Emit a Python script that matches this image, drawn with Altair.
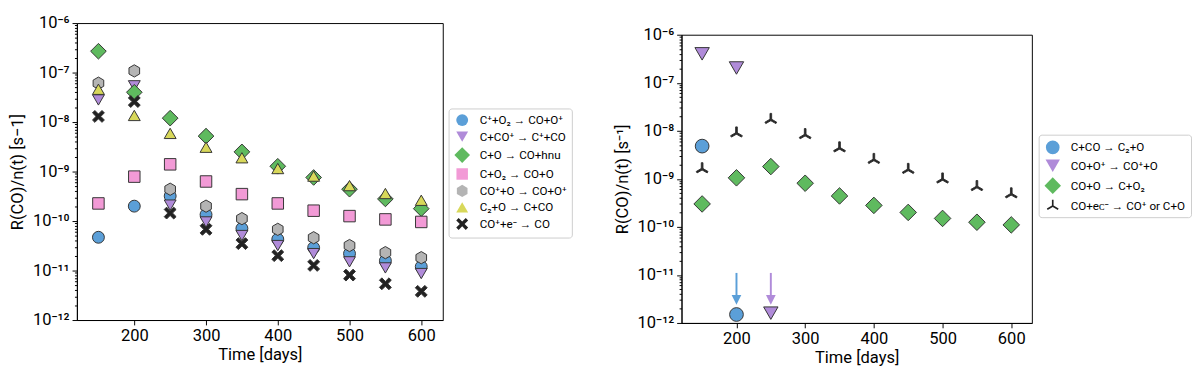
import altair as alt
import pandas as pd

# ---------------- data ----------------
days = [150, 200, 250, 300, 350, 400, 450, 500, 550, 600]

left_reactions = ["C⁺+O₂ → CO+O⁺", "C+CO⁺ → C⁺+CO", "C+O → CO+hnu", "C+O₂ → CO+O",
                  "CO⁺+O → CO+O⁺", "C₂+O → C+CO", "CO⁺+e⁻ → CO"]
l_cp_o2 = [4.7e-11, 2.0e-10, 3.2e-10, 1.35e-10, 7.1e-11, 4.3e-11, 2.9e-11, 2.2e-11, 1.58e-11, 1.2e-11]
l_c_cop = [2.8e-8, 5.4e-8, 2.1e-10, 9.6e-11, 5.1e-11, 3.2e-11, 2.2e-11, 1.5e-11, 1.13e-11, 8.7e-12]
l_c_o = [2.7e-7, 4.0e-8, 1.2e-8, 5.2e-9, 2.5e-9, 1.28e-9, 7.6e-10, 4.4e-10, 2.8e-10, 1.78e-10]
l_c_o2 = [2.27e-10, 7.9e-10, 1.4e-9, 6.3e-10, 3.5e-10, 2.27e-10, 1.62e-10, 1.26e-10, 1.08e-10, 9.6e-11]
l_cop_o = [6.1e-8, 1.08e-7, 4.4e-10, 2.0e-10, 1.12e-10, 6.8e-11, 4.6e-11, 3.2e-11, 2.3e-11, 1.82e-11]
l_c2_o = [4.6e-8, 1.36e-8, 5.9e-9, 3.1e-9, 1.9e-9, 1.15e-9, 8.1e-10, 5.2e-10, 3.6e-10, 2.63e-10]
l_cop_e = [1.3e-8, 2.6e-8, 1.45e-10, 6.8e-11, 3.5e-11, 2.0e-11, 1.27e-11, 8.1e-12, 5.4e-12, 3.8e-12]
left_series = [l_cp_o2, l_c_cop, l_c_o, l_c_o2, l_cop_o, l_c2_o, l_cop_e]

right_reactions = ["C+CO → C₂+O", "CO+O⁺ → CO⁺+O", "CO+O → C+O₂", "CO+eᴄ⁻ → CO⁺ or C+O"]
r_c_co_days = [150, 200]
r_c_co = [4.8e-9, 1.5e-12]
r_co_op_days = [150, 200, 250]
r_co_op = [4.0e-7, 2.03e-7, 1.6e-12]
r_co_o = [3.0e-10, 1.05e-9, 1.8e-9, 8.1e-10, 4.4e-10, 2.8e-10, 2.0e-10, 1.5e-10, 1.25e-10, 1.1e-10]
r_co_e = [1.6e-9, 8.9e-9, 1.7e-8, 8.2e-9, 4.35e-9, 2.5e-9, 1.55e-9, 9.8e-10, 6.8e-10, 4.8e-10]

arrow_days = [200, 250]
arrow_top = [1.1e-11, 1.1e-11]
arrow_tip = [2.4e-12, 2.4e-12]
arrow_colors = ["#5b9fd8", "#b08bd9"]

x_ticks = [200, 300, 400, 500, 600]

# ---------------- styling ----------------
BLUE, PURPLE, GREEN, PINK, GRAY, YELLOW, DARK = (
    "#5b9fd8", "#b08bd9", "#5fba5f", "#f29ad6", "#b4b4b4", "#d8d85a", "#222222")
HEX = "M0,-1L0.866,-0.5L0.866,0.5L0,1L-0.866,0.5L-0.866,-0.5Z"
XSHAPE = "M-1,-0.6L-0.6,-1L0,-0.4L0.6,-1L1,-0.6L0.4,0L1,0.6L0.6,1L0,0.4L-0.6,1L-1,0.6L-0.4,0Z"
TRI = ("M-0.13,0L-0.13,-1L0.13,-1L0.13,0Z"
       "M-0.801,0.613L-0.931,0.387L-0.065,-0.113L0.065,0.113Z"
       "M-0.065,0.113L0.065,-0.113L0.931,0.387L0.801,0.613Z")
HEAD = "M-0.5,-1L0.5,-1L0,0Z"

left_colors = [BLUE, PURPLE, GREEN, PINK, GRAY, YELLOW, DARK]
left_shapes = ["circle", "triangle-down", "diamond", "square", HEX, "triangle-up", XSHAPE]
left_sizes = [150, 150, 260, 140, 160, 150, 150]
right_colors = [BLUE, PURPLE, GREEN, DARK]
right_shapes = ["circle", "triangle-down", "diamond", TRI]
right_sizes = [200, 220, 290, 170]

FONT = "Roboto"

sup = {"-6": "⁻⁶", "-7": "⁻⁷", "-8": "⁻⁸", "-9": "⁻⁹", "-10": "⁻¹⁰", "-11": "⁻¹¹", "-12": "⁻¹²"}
decades = [-12, -11, -10, -9, -8, -7, -6]
y_ticks = []
for e in decades:
    y_ticks.append(float(f"1e{e}"))
    if e < -6:
        for k in range(2, 10):
            y_ticks.append(float(f"{k}e{e}"))

MAJOR = "abs(log(datum.value)/LN10 - round(log(datum.value)/LN10)) < 0.001"
label_expr = " : ".join(
    f"abs(datum.value/1e{e} - 1) < 1e-6 ? '10{sup[str(e)]}'" for e in decades) + " : ''"

xscale = alt.Scale(domain=[120, 630], nice=False, zero=False)
yscale = alt.Scale(type="log", domain=[1e-12, 1e-6], nice=False)


def xaxis():
    return alt.Axis(values=x_ticks, title="Time [days]", grid=False, tickSize=5,
                    labelFontSize=17, titleFontSize=17, labelPadding=3, titlePadding=4,
                    labelFlush=False, format="d")


def yaxis(title):
    return alt.Axis(values=y_ticks, labelExpr=label_expr, title=title, grid=False,
                    tickSize={"condition": {"test": MAJOR, "value": 5}, "value": 2.5},
                    labelFontSize=17, titleFontSize=17, labelPadding=3, titlePadding=6,
                    labelOverlap=False, labelFlush=False)


def legend(lx, ly):
    return alt.Legend(title=None, orient="none", legendX=lx, legendY=ly,
                      labelFontSize=12, labelFont=FONT,
                      strokeColor="#cccccc", fillColor="white",
                      padding=5, cornerRadius=3, rowPadding=0, labelOffset=9,
                      symbolOpacity=1, symbolStrokeColor="#333333", symbolStrokeWidth=1)


# ---------------- left panel ----------------
rows = []
for name, vals in zip(left_reactions, left_series):
    for d, v in zip(days, vals):
        rows.append({"reaction": name, "day": d, "rate": v})
ldf = pd.DataFrame(rows)

LLEG = legend(383, 88)
left = alt.Chart(ldf).mark_point(filled=True, opacity=1, stroke="#333333", strokeWidth=1).encode(
    x=alt.X("day:Q", scale=xscale, axis=xaxis()),
    y=alt.Y("rate:Q", scale=yscale, axis=yaxis("R(CO)/n(t) [s−1]")),
    color=alt.Color("reaction:N", scale=alt.Scale(domain=left_reactions, range=left_colors), legend=LLEG),
    shape=alt.Shape("reaction:N", scale=alt.Scale(domain=left_reactions, range=left_shapes), legend=LLEG),
    size=alt.Size("reaction:N", scale=alt.Scale(type="ordinal", domain=left_reactions, range=left_sizes),
                  legend=LLEG),
).properties(width=377, height=306)

# ---------------- right panel ----------------
rrows = []
for d, v in zip(r_c_co_days, r_c_co):
    rrows.append({"reaction": right_reactions[0], "day": d, "rate": v})
for d, v in zip(r_co_op_days, r_co_op):
    rrows.append({"reaction": right_reactions[1], "day": d, "rate": v})
for d, v in zip(days, r_co_o):
    rrows.append({"reaction": right_reactions[2], "day": d, "rate": v})
for d, v in zip(days, r_co_e):
    rrows.append({"reaction": right_reactions[3], "day": d, "rate": v})
rdf = pd.DataFrame(rrows)

adf = pd.DataFrame({"day": arrow_days, "top": arrow_top, "tip": arrow_tip, "col": arrow_colors})

RLEG = legend(368, 115)
ryaxis = yaxis("R(CO)/n(t) [s⁻¹]")
rpts = alt.Chart(rdf).mark_point(filled=True, opacity=1, stroke="#333333", strokeWidth=1).encode(
    x=alt.X("day:Q", scale=xscale, axis=xaxis()),
    y=alt.Y("rate:Q", scale=yscale, axis=ryaxis),
    color=alt.Color("reaction:N", scale=alt.Scale(domain=right_reactions, range=right_colors), legend=RLEG),
    shape=alt.Shape("reaction:N", scale=alt.Scale(domain=right_reactions, range=right_shapes), legend=RLEG),
    size=alt.Size("reaction:N", scale=alt.Scale(type="ordinal", domain=right_reactions, range=right_sizes),
                  legend=RLEG),
)
shaft = alt.Chart(adf).transform_calculate(base="datum.tip * 1.45").mark_rule(strokeWidth=2).encode(
    x=alt.X("day:Q", scale=xscale, axis=xaxis()),
    y=alt.Y("top:Q", scale=yscale, axis=ryaxis),
    y2="base:Q",
    stroke=alt.Stroke("col:N", scale=None),
)
head = alt.Chart(adf).mark_point(filled=True, shape=HEAD, size=400, opacity=1).encode(
    x=alt.X("day:Q", scale=xscale, axis=xaxis()),
    y=alt.Y("tip:Q", scale=yscale, axis=ryaxis),
    fill=alt.Fill("col:N", scale=None),
)
right = alt.layer(rpts, shaft, head).properties(width=361, height=297)

spacer = alt.Chart(pd.DataFrame({"v": [0]})).mark_point(opacity=0, size=0).encode(
    x=alt.value(5), y=alt.value(0.5)
).properties(width=361, height=1, view=alt.ViewBackground(stroke="transparent"))

chart = alt.hconcat(
    left,
    alt.vconcat(spacer, right, spacing=0),
    spacing=41,
).resolve_scale(color="independent", shape="independent", size="independent").properties(
    padding={"left": 0, "top": 0, "right": 0, "bottom": 0}
).configure_view(stroke="black", strokeWidth=1).configure_axis(
    domainColor="black", tickColor="black", labelColor="black", titleColor="black",
    labelFont=FONT, titleFont=FONT, titleFontWeight="normal"
)

chart.save("out.html", embed_options={"renderer": "svg", "actions": False})
